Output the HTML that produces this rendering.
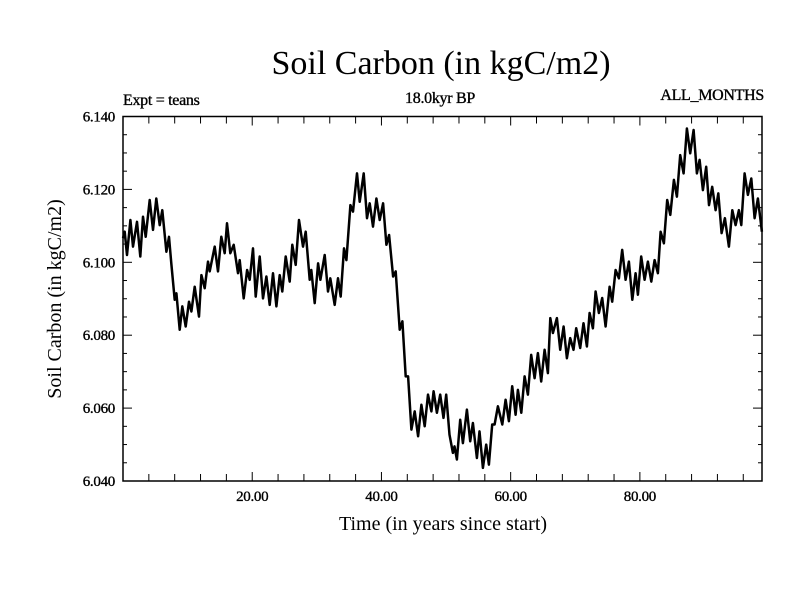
<!DOCTYPE html>
<html><head><meta charset="utf-8"><style>
html,body{margin:0;padding:0;background:#fff}
svg{display:block;font-family:"Liberation Serif",serif}
.sm{stroke:#000;stroke-width:0.35}
</style></head><body>
<svg id="chart" width="800" height="600">
<text x="441" y="74" font-size="34" text-anchor="middle">Soil Carbon (in kgC/m2)</text>
<text class="sm" x="440" y="103" font-size="16" letter-spacing="-0.3" text-anchor="middle">18.0kyr BP</text>
<text class="sm" x="123" y="105" font-size="16" letter-spacing="-0.3">Expt = teans</text>
<text class="sm" x="764" y="100" font-size="16" letter-spacing="-0.3" text-anchor="end">ALL_MONTHS</text>
<text x="443" y="530" font-size="20" text-anchor="middle">Time (in years since start)</text>
<text transform="translate(61,299) rotate(-90)" font-size="20" text-anchor="middle">Soil Carbon (in kgC/m2)</text>
<g id="axes"></g>
<polyline id="series" fill="none" stroke="#000" stroke-width="2.5" stroke-linejoin="round"></polyline>
<rect x="123" y="116.5" width="639" height="364.5" fill="none" stroke="#000" stroke-width="1.5"></rect>
</svg>
<script>
const times=[0,0.26,0.62,1.14,1.55,2.17,2.68,3.10,3.51,4.13,4.64,5.16,5.68,6.09,6.71,7.12,7.48,8.00,8.26,8.77,9.18,9.70,10.22,10.58,11.09,11.76,12.13,12.64,13.16,13.42,14.19,14.71,15.22,15.74,16.10,16.61,17.13,17.80,18.06,18.68,19.20,19.61,20.12,20.54,21.16,21.67,22.19,22.70,23.22,23.74,24.25,24.66,25.18,25.80,26.21,26.73,27.24,27.86,28.28,28.90,29.15,29.67,30.19,30.55,31.22,31.73,32.09,32.77,33.28,33.69,34.21,34.57,35.19,35.60,36.22,36.64,37.25,37.77,38.18,38.70,39.22,39.73,40.25,40.76,41.18,41.80,42.21,42.83,43.24,43.76,44.12,44.63,45.15,45.67,46.18,46.70,47.21,47.73,48.07,48.58,49.10,49.61,50.03,50.54,51.06,51.31,51.68,52.19,52.60,53.22,53.74,54.15,54.77,55.18,55.70,56.22,56.63,57.14,57.51,58.02,58.70,59.21,59.73,60.24,60.76,61.12,61.64,62.15,62.67,63.18,63.70,64.22,64.73,65.25,65.76,66.13,66.54,67.16,67.67,68.19,68.70,69.22,69.73,70.15,70.76,71.28,71.80,72.21,72.73,73.14,73.66,74.17,74.69,75.31,75.72,76.24,76.75,77.27,77.79,78.30,78.82,79.33,79.69,80.21,80.73,81.24,81.76,82.27,82.79,83.20,83.72,84.23,84.70,85.26,85.73,86.24,86.76,87.27,87.79,88.31,88.82,89.24,89.75,90.27,90.69,91.20,91.72,92.13,92.65,93.16,93.78,94.30,94.81,95.33,95.69,96.21,96.72,97.24,97.76,98.27,98.89];
const values=[6.1066,6.1084,6.1020,6.1116,6.1043,6.1111,6.1016,6.1125,6.1070,6.1171,6.1089,6.1175,6.1102,6.1143,6.1029,6.1070,6.0997,6.0897,6.0915,6.0815,6.0879,6.0824,6.0892,6.0865,6.0933,6.0851,6.0965,6.0929,6.1002,6.0975,6.1043,6.0975,6.1070,6.1025,6.1107,6.1025,6.1048,6.0970,6.1006,6.0901,6.0979,6.0952,6.1038,6.0906,6.1016,6.0901,6.0961,6.0883,6.0970,6.0879,6.0965,6.0920,6.1016,6.0947,6.1048,6.0993,6.1116,6.1043,6.1084,6.0952,6.0979,6.0888,6.0997,6.0952,6.1020,6.0920,6.0956,6.0883,6.0956,6.0906,6.1038,6.1006,6.1157,6.1139,6.1244,6.1166,6.1244,6.1121,6.1162,6.1098,6.1175,6.1116,6.1162,6.1048,6.1075,6.0961,6.0975,6.0815,6.0838,6.0687,6.0687,6.0541,6.0591,6.0523,6.0609,6.0550,6.0637,6.0591,6.0646,6.0587,6.0637,6.0573,6.0637,6.0527,6.0477,6.0495,6.0459,6.0568,6.0504,6.0596,6.0509,6.0559,6.0463,6.0536,6.0436,6.0500,6.0445,6.0555,6.0555,6.0605,6.0555,6.0623,6.0564,6.0660,6.0582,6.0650,6.0587,6.0687,6.0637,6.0746,6.0682,6.0751,6.0673,6.0760,6.0696,6.0847,6.0806,6.0847,6.0760,6.0824,6.0737,6.0792,6.0760,6.0819,6.0765,6.0833,6.0769,6.0861,6.0819,6.0920,6.0861,6.0902,6.0824,6.0933,6.0892,6.0979,6.0956,6.1034,6.0952,6.1002,6.0897,6.0970,6.0911,6.1016,6.0952,6.1002,6.0947,6.1006,6.0970,6.1084,6.1052,6.1171,6.1130,6.1226,6.1180,6.1294,6.1244,6.1367,6.1299,6.1363,6.1244,6.1281,6.1198,6.1262,6.1157,6.1207,6.1143,6.1189,6.1080,6.1121,6.1043,6.1143,6.1102,6.1143,6.1102,6.1244,6.1185,6.1230,6.1121,6.1175,6.1084];
const xTicks=[20,40,60,80];
const xTickLabels=["20.00","40.00","60.00","80.00"];
const yTicks=[6.04,6.06,6.08,6.10,6.12,6.14];
const yTickLabels=["6.040","6.060","6.080","6.100","6.120","6.140"];
const X0=123,X1=762,Y0=481,Y1=116.5,XMIN=0,XMAX=98.9,YMIN=6.04,YMAX=6.14;
function sx(t){return X0+(t-XMIN)/(XMAX-XMIN)*(X1-X0);}
function sy(v){return Y0-(v-YMIN)/(YMAX-YMIN)*(Y0-Y1);}
const NS="http://www.w3.org/2000/svg";
const axes=document.getElementById('axes');
function line(x1,y1,x2,y2,name){
  const l=document.createElementNS(NS,'line');
  l.setAttribute('x1',x1);l.setAttribute('y1',y1);l.setAttribute('x2',x2);l.setAttribute('y2',y2);
  l.setAttribute('stroke','#000');l.setAttribute('stroke-width','1');
  
  
  axes.appendChild(l);
}
function text(x,y,s,anchor,name){
  const t=document.createElementNS(NS,'text');
  t.setAttribute('x',x);t.setAttribute('y',y);t.setAttribute('font-size','15');t.setAttribute('text-anchor',anchor);
  t.setAttribute('class','sm');t.setAttribute('letter-spacing','-0.3');
  t.textContent=s;
  
  
  axes.appendChild(t);
}
for(let t=4;t<XMAX;t+=4){
  const major=(t%20===0);const L=major?9:7;const x=sx(t);
  line(x,Y0,x,Y0-L,'x-tick');line(x,Y1,x,Y1+L,'x-tick-top');
}
xTicks.forEach((t,i)=>text(sx(t),501,xTickLabels[i],'middle','x-tick-label'));
for(let k=0;k<=20;k++){
  const v=YMIN+k*0.005;const major=(k%4===0);const L=major?9:4;const y=sy(v);
  line(X0,y,X0+L,y,'y-tick');line(X1,y,X1-L,y,'y-tick-right');
}
yTicks.forEach((v,i)=>text(115,sy(v)+5,yTickLabels[i],'end','y-tick-label'));
document.getElementById('series').setAttribute('points',times.map((t,i)=>sx(t).toFixed(1)+','+sy(values[i]).toFixed(1)).join(' '));
</script>
</body></html>
